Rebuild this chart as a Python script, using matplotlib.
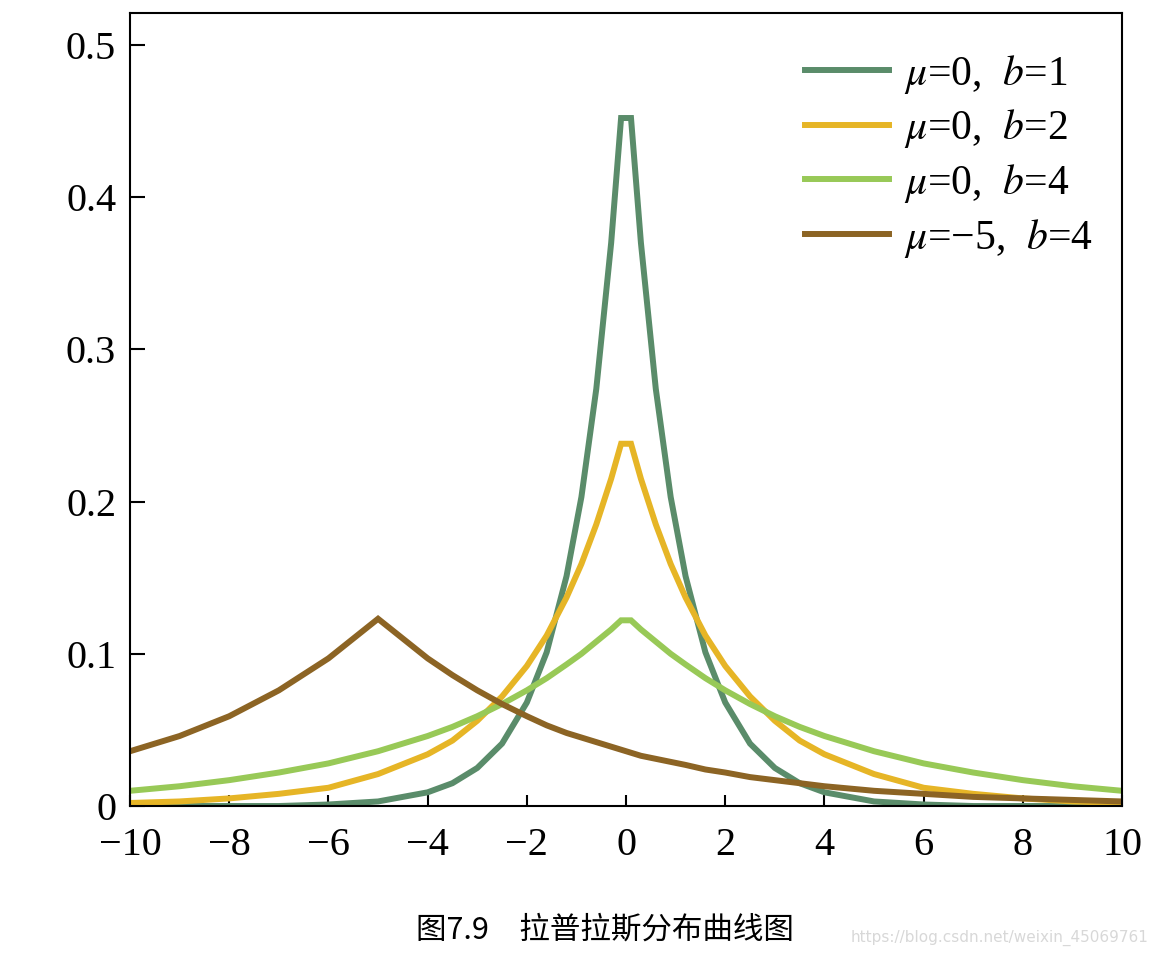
import matplotlib
matplotlib.use("Agg")
import matplotlib.pyplot as plt

x = [-10, -9, -8, -7, -6, -5, -4, -3.5, -3, -2.5, -2, -1.6, -1.2, -0.9, -0.6, -0.3, -0.1,
     0.1, 0.3, 0.6, 0.9, 1.2, 1.6, 2, 2.5, 3, 3.5, 4, 5, 6, 7, 8, 9, 10]

# mu=0, b=1
y_b1 = [0.000, 0.000, 0.000, 0.000, 0.001, 0.003, 0.009, 0.015, 0.025, 0.041, 0.068, 0.101, 0.151, 0.203, 0.274, 0.370, 0.452,
        0.452, 0.370, 0.274, 0.203, 0.151, 0.101, 0.068, 0.041, 0.025, 0.015, 0.009, 0.003, 0.001, 0.000, 0.000, 0.000, 0.000]
# mu=0, b=2
y_b2 = [0.002, 0.003, 0.005, 0.008, 0.012, 0.021, 0.034, 0.043, 0.056, 0.072, 0.092, 0.112, 0.137, 0.159, 0.185, 0.215, 0.238,
        0.238, 0.215, 0.185, 0.159, 0.137, 0.112, 0.092, 0.072, 0.056, 0.043, 0.034, 0.021, 0.012, 0.008, 0.005, 0.003, 0.002]
# mu=0, b=4
y_b4 = [0.010, 0.013, 0.017, 0.022, 0.028, 0.036, 0.046, 0.052, 0.059, 0.067, 0.076, 0.084, 0.093, 0.100, 0.108, 0.116, 0.122,
        0.122, 0.116, 0.108, 0.100, 0.093, 0.084, 0.076, 0.067, 0.059, 0.052, 0.046, 0.036, 0.028, 0.022, 0.017, 0.013, 0.010]
# mu=-5, b=4
y_m5 = [0.036, 0.046, 0.059, 0.076, 0.097, 0.123, 0.097, 0.086, 0.076, 0.067, 0.059, 0.053, 0.048, 0.045, 0.042, 0.039, 0.037,
        0.035, 0.033, 0.031, 0.029, 0.027, 0.024, 0.022, 0.019, 0.017, 0.015, 0.013, 0.010, 0.008, 0.006, 0.005, 0.004, 0.003]

labels = [r"$\mu$=0,  $b$=1", r"$\mu$=0,  $b$=2", r"$\mu$=0,  $b$=4", r"$\mu$=−5,  $b$=4"]
colors = ["#5A8C6A", "#E6B526", "#98C957", "#8C6424"]

xticks = [-10, -8, -6, -4, -2, 0, 2, 4, 6, 8, 10]
yticks = [0, 0.1, 0.2, 0.3, 0.4, 0.5]
yticklabels = ["0", "0.1", "0.2", "0.3", "0.4", "0.5"]

plt.rcParams["font.family"] = ["Liberation Serif", "DejaVu Serif"]
plt.rcParams["mathtext.fontset"] = "stix"

fig = plt.figure(figsize=(11.54, 9.55), dpi=100)
ax = fig.add_axes([0.1127, 0.156, 0.8596, 0.8304])

for ys, lab, c in zip([y_b1, y_b2, y_b4, y_m5], labels, colors):
    ax.plot(x, ys, color=c, lw=4.3, label=lab, solid_joinstyle="miter")

ax.set_xlim(-10, 10)
ax.set_ylim(0, 0.521)
ax.set_xticks(xticks)
ax.set_yticks(yticks)
ax.set_yticklabels(yticklabels)
ax.tick_params(direction="in", labelsize=29, width=1.5)
ax.tick_params(axis="y", length=11, pad=10)
ax.tick_params(axis="x", length=8, pad=15)
for s in ax.spines.values():
    s.set_linewidth(1.5)

ax.legend(loc="upper right", frameon=False, fontsize=30, handlelength=2.0,
          handletextpad=0.36, labelspacing=0.28, borderaxespad=0.55,
          bbox_to_anchor=(1.01, 1.0))

fig.text(0.524, 0.026, "图7.9　拉普拉斯分布曲线图", ha="center", va="center",
         fontsize=22, family=["Noto Sans CJK SC", "DejaVu Sans"])
fig.text(0.995, 0.018, "https://blog.csdn.net/weixin_45069761", ha="right", va="center",
         fontsize=11, color="#d8d8d8", family="DejaVu Sans")

fig.savefig("out.png", dpi=100)
